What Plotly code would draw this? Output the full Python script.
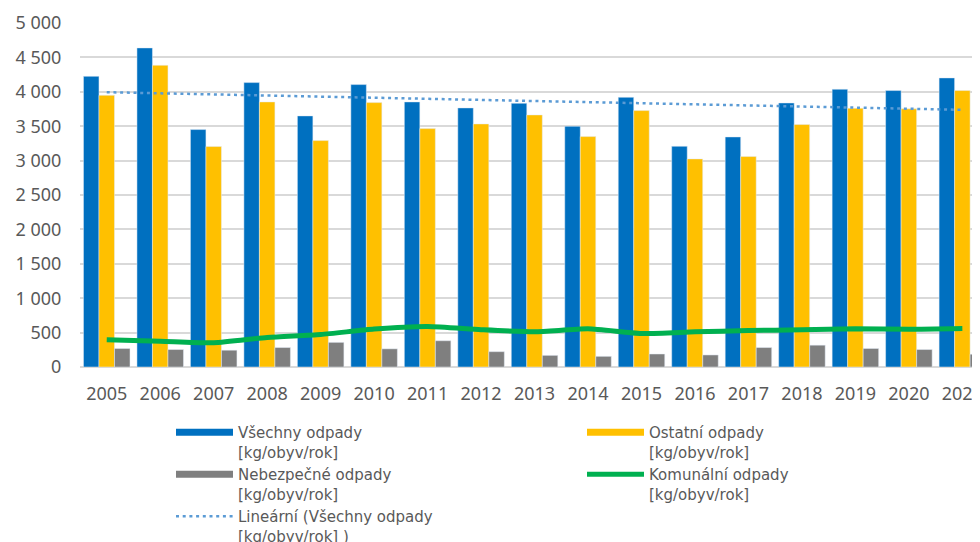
import numpy as np
import plotly.graph_objects as go

years = [str(y) for y in range(2005, 2022)]
vsechny = [4225, 4638, 3451, 4134, 3650, 4105, 3853, 3766, 3833, 3499, 3920, 3208, 3344, 3838, 4037, 4018, 4202]
ostatni = [3949, 4385, 3204, 3853, 3291, 3843, 3465, 3533, 3664, 3349, 3727, 3025, 3059, 3524, 3761, 3752, 4018]
nebezpecne = [269, 254, 244, 283, 358, 264, 382, 223, 169, 155, 189, 175, 283, 317, 269, 254, 186]
komunalni = [395, 375, 352, 429, 472, 552, 590, 542, 511, 555, 487, 511, 530, 540, 555, 548, 559]
ytick_vals = [0, 500, 1000, 1500, 2000, 2500, 3000, 3500, 4000, 4500, 5000]
ytick_text = ["0", "500", "1 000", "1 500", "2 000", "2 500", "3 000", "3 500", "4 000", "4 500", "5 000"]

names = {
    "v": "Všechny odpady<br>[kg/obyv/rok]",
    "o": "Ostatní odpady<br>[kg/obyv/rok]",
    "n": "Nebezpečné odpady<br>[kg/obyv/rok]",
    "k": "Komunální odpady<br>[kg/obyv/rok]",
    "t": "Lineární (Všechny odpady<br>[kg/obyv/rok] )",
}
BLUE, YELLOW, GRAY, GREEN, TREND = "#0070C0", "#FFC000", "#7F7F7F", "#00B050", "#5B9BD5"

# linear trend (least squares) of the total series
idx = np.arange(len(years))
slope, intercept = np.polyfit(idx, vsechny, 1)
trend = (slope * idx + intercept).tolist()

fig = go.Figure()
fig.add_bar(x=years, y=vsechny, marker_color=BLUE, showlegend=False, name=names["v"])
fig.add_bar(x=years, y=ostatni, marker_color=YELLOW, showlegend=False, name=names["o"])
fig.add_bar(x=years, y=nebezpecne, marker_color=GRAY, showlegend=False, name=names["n"])

# legend proxies for bars (wide flat swatches)
for key, col in (("v", BLUE), ("o", YELLOW), ("n", GRAY)):
    fig.add_scatter(x=[None], y=[None], mode="lines", line=dict(color=col, width=7),
                    name=names[key], hoverinfo="skip")

fig.add_scatter(x=years, y=komunalni, mode="lines", name=names["k"],
                line=dict(color=GREEN, width=5, shape="spline", smoothing=0.6))
fig.add_scatter(x=years, y=trend, mode="lines", name=names["t"],
                line=dict(color=TREND, width=2.5, dash="3px,3.7px"))

W, H = 972, 534
tick_font = "Noto Sans, Open Sans, DejaVu Sans, sans-serif"
legend_font = "DejaVu Sans, Noto Sans, sans-serif"
fig.update_layout(
    width=W, height=H,
    margin=dict(l=72, r=0, t=15, b=175, autoexpand=False),
    paper_bgcolor="white", plot_bgcolor="white",
    barmode="group", bargap=0.13, bargroupgap=0,
    font=dict(family=tick_font, color="#595959"),
    showlegend=True,
    legend=dict(orientation="h", xref="container", yref="container",
                x=163 / W, y=1 - 408 / H, xanchor="left", yanchor="top",
                entrywidth=339, itemwidth=57, valign="top",
                font=dict(family=legend_font, size=15, color="#595959"),
                traceorder="normal", bgcolor="rgba(0,0,0,0)"),
)
fig.update_xaxes(type="category", range=[-0.5, 16.33], showgrid=False,
                 showline=False, ticks="outside", ticklen=10, tickcolor="rgba(0,0,0,0)",
                 tickfont=dict(size=18, color="#595959"))
fig.update_yaxes(range=[0, 5000], tickvals=ytick_vals, ticktext=ytick_text,
                 showgrid=True, gridcolor="#D9D9D9", gridwidth=1.5,
                 zeroline=True, zerolinecolor="#D9D9D9", zerolinewidth=1.5,
                 showline=False, ticks="outside", ticklen=14, tickcolor="rgba(0,0,0,0)",
                 tickfont=dict(size=18, color="#595959"))

fig.write_html("out.html")
